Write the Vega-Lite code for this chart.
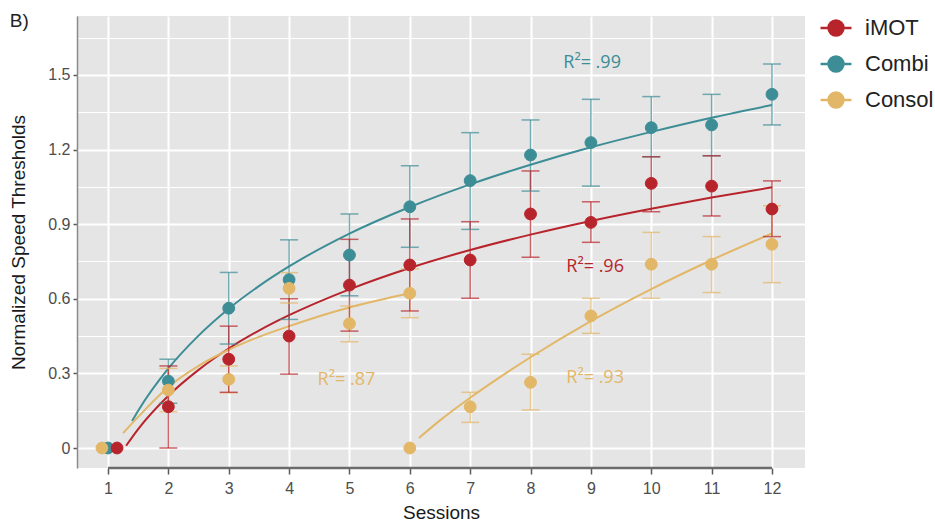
{
  "$schema": "https://vega.github.io/schema/vega-lite/v6.json",
  "width": 728,
  "height": 452,
  "autosize": "none",
  "padding": {"left": 77, "top": 16, "right": 130, "bottom": 57},
  "background": "white",
  "config": {
    "view": {"fill": "#E5E5E5", "stroke": null},
    "font": "Liberation Sans",
    "axis": {
      "labelFont": "Liberation Sans",
      "labelFontSize": 16,
      "labelColor": "#4d4d4d",
      "titleFont": "Liberation Sans",
      "titleFontSize": 19,
      "titleFontWeight": "normal",
      "titleColor": "#1a1a1a",
      "gridColor": "#ffffff",
      "tickColor": "#5a5a5a",
      "tickWidth": 1.5
    }
  },
  "title": {
    "text": "B)",
    "anchor": "start",
    "frame": "bounds",
    "offset": -20,
    "fontSize": 19,
    "fontWeight": "normal",
    "font": "Liberation Sans",
    "color": "#222222"
  },
  "datasets": {
    "pts": [
      {"series": "Combi", "x": 1, "y": 0},
      {"series": "Combi", "x": 2, "y": 0.269, "lo": 0.18, "hi": 0.357},
      {"series": "Combi", "x": 3, "y": 0.562, "lo": 0.418, "hi": 0.706},
      {"series": "Combi", "x": 4, "y": 0.677, "lo": 0.517, "hi": 0.837},
      {"series": "Combi", "x": 5, "y": 0.776, "lo": 0.612, "hi": 0.941},
      {"series": "Combi", "x": 6, "y": 0.97, "lo": 0.807, "hi": 1.135},
      {"series": "Combi", "x": 7, "y": 1.075, "lo": 0.879, "hi": 1.268},
      {"series": "Combi", "x": 8, "y": 1.178, "lo": 1.033, "hi": 1.319},
      {"series": "Combi", "x": 9, "y": 1.228, "lo": 1.053, "hi": 1.402},
      {"series": "Combi", "x": 10, "y": 1.288, "lo": 1.171, "hi": 1.413},
      {"series": "Combi", "x": 11, "y": 1.299, "lo": 1.175, "hi": 1.422},
      {"series": "Combi", "x": 12, "y": 1.422, "lo": 1.299, "hi": 1.544},
      {"series": "Consol", "x": 0.9, "y": 0},
      {"series": "Consol", "x": 2, "y": 0.233, "lo": 0.146, "hi": 0.32},
      {"series": "Consol", "x": 3, "y": 0.276, "lo": 0.222, "hi": 0.33},
      {"series": "Consol", "x": 4, "y": 0.642, "lo": 0.583, "hi": 0.705},
      {"series": "Consol", "x": 5, "y": 0.5, "lo": 0.427, "hi": 0.571},
      {"series": "Consol", "x": 6, "y": 0.622, "lo": 0.524, "hi": 0.72},
      {"series": "Consol", "x": 6, "y": 0},
      {"series": "Consol", "x": 7, "y": 0.166, "lo": 0.103, "hi": 0.224},
      {"series": "Consol", "x": 8, "y": 0.264, "lo": 0.153, "hi": 0.377},
      {"series": "Consol", "x": 9, "y": 0.531, "lo": 0.461, "hi": 0.602},
      {"series": "Consol", "x": 10, "y": 0.739, "lo": 0.602, "hi": 0.867},
      {"series": "Consol", "x": 11, "y": 0.739, "lo": 0.625, "hi": 0.85},
      {"series": "Consol", "x": 12, "y": 0.819, "lo": 0.665, "hi": 0.974},
      {"series": "iMOT", "x": 1.15, "y": 0},
      {"series": "iMOT", "x": 2, "y": 0.166, "lo": 0, "hi": 0.33},
      {"series": "iMOT", "x": 3, "y": 0.357, "lo": 0.224, "hi": 0.49},
      {"series": "iMOT", "x": 4, "y": 0.45, "lo": 0.297, "hi": 0.6},
      {"series": "iMOT", "x": 5, "y": 0.655, "lo": 0.47, "hi": 0.839},
      {"series": "iMOT", "x": 6, "y": 0.736, "lo": 0.551, "hi": 0.921},
      {"series": "iMOT", "x": 7, "y": 0.756, "lo": 0.602, "hi": 0.91},
      {"series": "iMOT", "x": 8, "y": 0.941, "lo": 0.767, "hi": 1.114},
      {"series": "iMOT", "x": 9, "y": 0.907, "lo": 0.827, "hi": 0.99},
      {"series": "iMOT", "x": 10, "y": 1.064, "lo": 0.95, "hi": 1.171},
      {"series": "iMOT", "x": 11, "y": 1.053, "lo": 0.933, "hi": 1.175},
      {"series": "iMOT", "x": 12, "y": 0.961, "lo": 0.85, "hi": 1.074}
    ],
    "fits": [
      {"series": "Combi", "seg": "c", "x": 1.4, "y": 0.109},
      {"series": "Combi", "seg": "c", "x": 1.5, "y": 0.15},
      {"series": "Combi", "seg": "c", "x": 2, "y": 0.32},
      {"series": "Combi", "seg": "c", "x": 2.5, "y": 0.452},
      {"series": "Combi", "seg": "c", "x": 3, "y": 0.56},
      {"series": "Combi", "seg": "c", "x": 3.5, "y": 0.651},
      {"series": "Combi", "seg": "c", "x": 4, "y": 0.73},
      {"series": "Combi", "seg": "c", "x": 5, "y": 0.862},
      {"series": "Combi", "seg": "c", "x": 6, "y": 0.969},
      {"series": "Combi", "seg": "c", "x": 7, "y": 1.06},
      {"series": "Combi", "seg": "c", "x": 8, "y": 1.139},
      {"series": "Combi", "seg": "c", "x": 9, "y": 1.209},
      {"series": "Combi", "seg": "c", "x": 10, "y": 1.271},
      {"series": "Combi", "seg": "c", "x": 11, "y": 1.328},
      {"series": "Combi", "seg": "c", "x": 12, "y": 1.379},
      {"series": "iMOT", "seg": "i", "x": 1.3, "y": 0.009},
      {"series": "iMOT", "seg": "i", "x": 1.5, "y": 0.076},
      {"series": "iMOT", "seg": "i", "x": 2, "y": 0.21},
      {"series": "iMOT", "seg": "i", "x": 2.5, "y": 0.314},
      {"series": "iMOT", "seg": "i", "x": 3, "y": 0.4},
      {"series": "iMOT", "seg": "i", "x": 3.5, "y": 0.472},
      {"series": "iMOT", "seg": "i", "x": 4, "y": 0.534},
      {"series": "iMOT", "seg": "i", "x": 5, "y": 0.638},
      {"series": "iMOT", "seg": "i", "x": 6, "y": 0.724},
      {"series": "iMOT", "seg": "i", "x": 7, "y": 0.796},
      {"series": "iMOT", "seg": "i", "x": 8, "y": 0.858},
      {"series": "iMOT", "seg": "i", "x": 9, "y": 0.913},
      {"series": "iMOT", "seg": "i", "x": 10, "y": 0.962},
      {"series": "iMOT", "seg": "i", "x": 11, "y": 1.007},
      {"series": "iMOT", "seg": "i", "x": 12, "y": 1.048},
      {"series": "Consol", "seg": "a", "x": 1.25, "y": 0.06},
      {"series": "Consol", "seg": "a", "x": 1.5, "y": 0.125},
      {"series": "Consol", "seg": "a", "x": 2, "y": 0.245},
      {"series": "Consol", "seg": "a", "x": 2.5, "y": 0.33},
      {"series": "Consol", "seg": "a", "x": 3, "y": 0.395},
      {"series": "Consol", "seg": "a", "x": 3.5, "y": 0.447},
      {"series": "Consol", "seg": "a", "x": 4, "y": 0.49},
      {"series": "Consol", "seg": "a", "x": 4.5, "y": 0.53},
      {"series": "Consol", "seg": "a", "x": 5, "y": 0.565},
      {"series": "Consol", "seg": "a", "x": 5.5, "y": 0.595},
      {"series": "Consol", "seg": "a", "x": 6, "y": 0.622},
      {"series": "Consol", "seg": "b", "x": 6.15, "y": 0.04},
      {"series": "Consol", "seg": "b", "x": 6.5, "y": 0.111},
      {"series": "Consol", "seg": "b", "x": 7, "y": 0.202},
      {"series": "Consol", "seg": "b", "x": 7.5, "y": 0.286},
      {"series": "Consol", "seg": "b", "x": 8, "y": 0.365},
      {"series": "Consol", "seg": "b", "x": 9, "y": 0.51},
      {"series": "Consol", "seg": "b", "x": 10, "y": 0.639},
      {"series": "Consol", "seg": "b", "x": 11, "y": 0.756},
      {"series": "Consol", "seg": "b", "x": 12, "y": 0.863}
    ],
    "notes": [
      {"series": "Combi", "label": "R²= .99", "x": 9.02, "y": 1.548},
      {"series": "iMOT", "label": "R²= .96", "x": 9.07, "y": 0.727},
      {"series": "Consol", "label": "R²= .87", "x": 4.95, "y": 0.273},
      {"series": "Consol", "label": "R²= .93", "x": 9.07, "y": 0.281}
    ]
  },
  "encoding": {
    "x": {
      "field": "x", "type": "quantitative", "title": "Sessions",
      "scale": {"domain": [0.4864, 12.547], "nice": false, "zero": false},
      "axis": {"values": [1, 2, 3, 4, 5, 6, 7, 8, 9, 10, 11, 12], "title": "Sessions", "tickSize": 6, "labelPadding": 6, "titlePadding": 7, "gridWidth": 2, "domain": false}
    },
    "y": {
      "field": "y", "type": "quantitative", "title": "Normalized Speed Thresholds",
      "scale": {"domain": [-0.0804, 1.737], "nice": false, "zero": false},
      "axis": {
        "values": [0, 0.15, 0.3, 0.45, 0.6, 0.75, 0.9, 1.05, 1.2, 1.35, 1.5, 1.65],
        "title": "Normalized Speed Thresholds",
        "labelExpr": "round(datum.value*100) % 30 == 0 ? (datum.value == 0 ? '0' : format(datum.value, '.1f')) : ''",
        "gridWidth": {"condition": {"test": "round(datum.value*100) % 30 == 0", "value": 2}, "value": 1.1},
        "tickOpacity": {"condition": {"test": "round(datum.value*100) % 30 == 0", "value": 1}, "value": 0},
        "tickSize": 4,
        "labelPadding": 3,
        "titlePadding": 19,
        "domain": true, "domainColor": "#8a8a8a", "domainWidth": 1.5
      }
    }
  },
  "layer": [
    {
      "data": {"name": "fits"},
      "mark": {"type": "line", "strokeWidth": 2, "interpolate": "monotone"},
      "encoding": {
        "color": {"field": "series", "type": "nominal", "scale": {"range": ["#3C8D96", "#E2B768", "#B8242C"]}, "legend": null},
        "detail": {"field": "seg"}
      }
    },
    {
      "data": {"name": "pts"},
      "transform": [{"filter": {"field": "lo", "valid": true}}],
      "mark": {"type": "rule", "strokeWidth": 1.5, "opacity": 0.7},
      "encoding": {
        "y": {"field": "lo", "type": "quantitative", "title": "Normalized Speed Thresholds"},
        "y2": {"field": "hi"},
        "color": {"field": "series", "type": "nominal", "legend": null}
      }
    },
    {
      "data": {"name": "pts"},
      "transform": [{"filter": {"field": "lo", "valid": true}}],
      "mark": {"type": "tick", "orient": "horizontal", "size": 18, "thickness": 1.5, "opacity": 0.7},
      "encoding": {
        "y": {"field": "lo", "type": "quantitative", "title": "Normalized Speed Thresholds"},
        "color": {"field": "series", "type": "nominal", "legend": null}
      }
    },
    {
      "data": {"name": "pts"},
      "transform": [{"filter": {"field": "hi", "valid": true}}],
      "mark": {"type": "tick", "orient": "horizontal", "size": 18, "thickness": 1.5, "opacity": 0.7},
      "encoding": {
        "y": {"field": "hi", "type": "quantitative", "title": "Normalized Speed Thresholds"},
        "color": {"field": "series", "type": "nominal", "legend": null}
      }
    },
    {
      "data": {"name": "pts"},
      "mark": {"type": "point", "filled": true, "size": 140, "opacity": 1, "strokeWidth": 1},
      "encoding": {
        "fill": {
          "field": "series", "type": "nominal",
          "scale": {"domain": ["iMOT", "Combi", "Consol"], "range": ["#B8242C", "#3C8D96", "#E2B768"]},
          "legend": {
            "orient": "none", "legendX": 742, "legendY": -5, "title": null, "padding": 0,
            "labelFont": "Liberation Sans", "labelFontSize": 22, "labelColor": "#222222", "labelOffset": 12,
            "symbolType": "M0.48,0C0.48,0.265,0.265,0.48,0,0.48C-0.265,0.48,-0.48,0.265,-0.48,0C-0.48,-0.265,-0.265,-0.48,0,-0.48C0.265,-0.48,0.48,-0.265,0.48,0ZM-1,0L1,0",
            "symbolSize": 961, "symbolStrokeWidth": 2.5, "rowPadding": 6
          }
        },
        "stroke": {
          "field": "series", "type": "nominal",
          "scale": {"domain": ["iMOT", "Combi", "Consol"], "range": ["#B8242C", "#3C8D96", "#E2B768"]},
          "legend": {
            "orient": "none", "legendX": 742, "legendY": -5, "title": null, "padding": 0,
            "labelFont": "Liberation Sans", "labelFontSize": 22, "labelColor": "#222222", "labelOffset": 12,
            "symbolType": "M0.48,0C0.48,0.265,0.265,0.48,0,0.48C-0.265,0.48,-0.48,0.265,-0.48,0C-0.48,-0.265,-0.265,-0.48,0,-0.48C0.265,-0.48,0.48,-0.265,0.48,0ZM-1,0L1,0",
            "symbolSize": 961, "symbolStrokeWidth": 2.5, "rowPadding": 6
          }
        }
      }
    },
    {
      "data": {"name": "notes"},
      "mark": {"type": "text", "font": "Open Sans", "fontSize": 18, "align": "center", "baseline": "middle"},
      "encoding": {
        "text": {"field": "label"},
        "color": {"field": "series", "type": "nominal", "legend": null}
      }
    },
    {
      "data": {"name": "pts"},
      "transform": [
        {"filter": {"field": "series", "equal": "Combi"}},
        {"aggregate": [{"op": "min", "field": "x", "as": "x0"}, {"op": "max", "field": "x", "as": "x1"}]}
      ],
      "mark": {"type": "rule", "color": "#6b6b6b", "strokeWidth": 2.5},
      "encoding": {
        "x": {"field": "x0", "type": "quantitative", "title": "Sessions"},
        "x2": {"field": "x1"},
        "y": {"value": "height"}
      }
    }
  ]
}
